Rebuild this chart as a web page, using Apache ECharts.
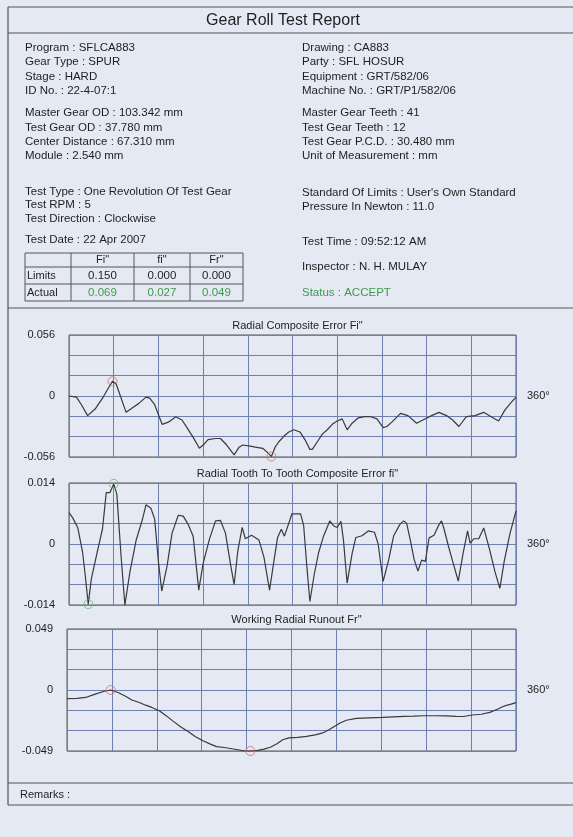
<!DOCTYPE html>
<html>
<head>
<meta charset="utf-8">
<script src="https://cdn.jsdelivr.net/npm/echarts@6/dist/echarts.min.js"></script>
<style>
  html, body { margin: 0; padding: 0; background: #e4e9f3; }
  #container { width: 573px; height: 837px; }
</style>
</head>
<body>
<div id="container"></div>
<script>
// Radial Composite Error Fi"  (degrees / mm)
var fiDeg = [0, 6, 10, 15, 21, 27, 31, 35, 38, 42, 46, 52, 56, 62, 65, 69, 72, 75, 80, 86, 91, 95, 100, 105, 109, 112, 118, 122, 127, 133, 137, 140, 146, 150, 156, 160, 163, 166, 169, 173, 177, 181, 186, 190, 194, 196, 200, 204, 208, 212, 216, 220, 224, 228, 233, 238, 243, 248, 253, 256, 260, 267, 273, 280, 285, 292, 298, 304, 309, 314, 320, 327, 334, 340, 346, 351, 356, 360];
var fiVal = [0, -0.001, -0.008, -0.018, -0.012, -0.002, 0.006, 0.0135, 0.011, -0.002, -0.015, -0.010, -0.007, -0.001, -0.002, -0.008, -0.017, -0.026, -0.024, -0.019, -0.022, -0.029, -0.038, -0.048, -0.044, -0.040, -0.039, -0.039, -0.045, -0.054, -0.047, -0.045, -0.046, -0.047, -0.048, -0.052, -0.0555, -0.047, -0.042, -0.037, -0.033, -0.031, -0.033, -0.040, -0.049, -0.049, -0.042, -0.035, -0.031, -0.026, -0.023, -0.021, -0.031, -0.025, -0.020, -0.019, -0.019, -0.021, -0.029, -0.028, -0.024, -0.016, -0.018, -0.025, -0.022, -0.018, -0.015, -0.018, -0.022, -0.028, -0.019, -0.018, -0.015, -0.019, -0.023, -0.013, -0.006, -0.001];
var fiMarkDeg = [35, 163];
var fiMarkVal = [0.0135, -0.0555];

// Radial Tooth To Tooth Composite Error fi"
var ftDeg = [0, 3, 7, 11, 13, 15.5, 18, 23, 27, 30, 33, 36, 38.5, 42, 45, 49, 54, 59, 62, 66, 69, 72, 74.7, 79, 83, 88, 92, 96, 100, 104.5, 108, 113, 118, 122, 126, 130, 133, 136, 139.5, 142, 147, 153, 157, 161.5, 165, 168, 171, 173.5, 179.5, 186.5, 189, 191.5, 194, 197.5, 201, 205, 210, 213, 216, 219, 221, 224, 228, 231, 236, 241, 246, 249, 253, 257.5, 261.5, 266.5, 269.5, 272, 275, 278, 281, 284, 287, 290, 294, 297.5, 300, 302, 305.5, 309.5, 313.5, 317.5, 321, 323, 326, 330, 334, 338.5, 343, 347, 350.5, 355, 360];
var ftVal = [0.0072, 0.006, 0.0038, -0.002, -0.007, -0.0138, -0.008, -0.0015, 0.0035, 0.0118, 0.0118, 0.0138, 0.0115, -0.003, -0.014, -0.0065, 0.0008, 0.0055, 0.009, 0.0082, 0.0057, -0.004, -0.0108, -0.005, 0.0025, 0.0066, 0.0064, 0.0045, 0.0018, -0.0106, -0.0045, 0.001, 0.0053, 0.0054, 0.0025, -0.0045, -0.0093, -0.0015, 0.0038, 0.0012, 0.002, 0.0009, -0.003, -0.0106, -0.004, 0.0015, 0.0034, 0.0018, 0.0069, 0.0069, 0.0042, -0.005, -0.0132, -0.007, -0.002, 0.0018, 0.0053, 0.0042, 0.0038, 0.0052, 0.001, -0.009, -0.0022, 0.0015, 0.0019, 0.003, 0.0027, 0, -0.0086, -0.0036, 0.0019, 0.0045, 0.0053, 0.0047, 0.0007, -0.0036, -0.0062, -0.0037, -0.004, 0.0014, 0.002, 0.0042, 0.0053, 0.0035, -0.0004, -0.0045, -0.0085, -0.002, 0.003, 0.0002, 0.0012, 0.0012, 0.0037, -0.001, -0.0063, -0.0102, -0.004, 0.0022, 0.0076];
var ftMarkDeg = [36, 15.5];
var ftMarkVal = [0.0138, -0.0138];

// Working Radial Runout Fr"
var frDeg = [0, 8, 15, 22, 30, 35, 41, 47, 52, 58, 63, 68, 74, 80, 85, 91, 98, 103, 109, 115, 120, 126, 131, 137, 143, 148, 153, 158, 163, 168, 173, 178, 185, 192, 199, 205, 210, 214, 219, 224, 232, 242, 253, 262, 270, 278, 286, 295, 304, 312, 318, 325, 332, 339, 345, 351, 356, 360];
var frVal = [-0.0069, -0.0067, -0.006, -0.0035, -0.001, 0, -0.002, -0.005, -0.008, -0.010, -0.0122, -0.014, -0.0167, -0.021, -0.025, -0.0295, -0.034, -0.0375, -0.0408, -0.0435, -0.0455, -0.0462, -0.047, -0.048, -0.049, -0.049, -0.0485, -0.0475, -0.046, -0.0433, -0.040, -0.0385, -0.038, -0.0372, -0.036, -0.0345, -0.032, -0.0295, -0.0265, -0.0243, -0.0228, -0.0224, -0.022, -0.0216, -0.0212, -0.021, -0.0207, -0.0207, -0.0208, -0.0212, -0.0213, -0.0201, -0.0195, -0.018, -0.0155, -0.0127, -0.0113, -0.0101];
var frMarkDeg = [35, 147];
var frMarkVal = [0, -0.049];

var axisLimits = [0.056, 0.014, 0.049];
var chartTitles = ['Radial Composite Error Fi"', 'Radial Tooth To Tooth Composite Error fi"', 'Working Radial Runout Fr"'];

// header text
var leftInfo = ['Program : SFLCA883', 'Gear Type : SPUR', 'Stage : HARD', 'ID No. : 22-4-07:1',
  'Master Gear OD : 103.342 mm', 'Test Gear OD : 37.780 mm', 'Center Distance : 67.310 mm', 'Module : 2.540 mm',
  'Test Type : One Revolution Of Test Gear', 'Test RPM : 5', 'Test Direction : Clockwise', 'Test Date : 22 Apr 2007'];
var rightInfo = ['Drawing : CA883', 'Party : SFL HOSUR', 'Equipment : GRT/582/06', 'Machine No. : GRT/P1/582/06',
  'Master Gear Teeth : 41', 'Test Gear Teeth : 12', 'Test Gear P.C.D. : 30.480 mm', 'Unit of Measurement : mm',
  'Standard Of Limits : User\'s Own Standard', 'Pressure In Newton : 11.0', 'Test Time : 09:52:12 AM', 'Inspector : N. H. MULAY'];
var tableHead = ['Fi"', 'fi"', 'Fr"'];
var tableLimits = ['0.150', '0.000', '0.000'];
var tableActual = ['0.069', '0.027', '0.049'];
var statusText = 'Status : ACCEPT';

function pairs(xs, ys) {
  let out = [];
  for (let i = 0; i < xs.length; i++) out.push([xs[i], ys[i]]);
  return out;
}

let myChart = echarts.init(document.getElementById('container'), null, {renderer: 'canvas'});

let FONT = '"Liberation Sans", Arial, sans-serif';
let INK = '#1e1e1e';
let GREEN = '#3f9a4c';
let BORDER = '#555';

// grid boxes (left, top, width, height)
let grids = [
  {left: 69, top: 335, width: 447, height: 122},
  {left: 69, top: 483, width: 447, height: 122},
  {left: 67, top: 629, width: 449, height: 122}
];

let graphic = [];
function txt(s, x, y, size, color, align) {
  graphic.push({type: 'text', silent: true, style: {text: s, x: x, y: y, fill: color || INK,
    font: (size || 11.5) + 'px ' + FONT, align: align || 'left', verticalAlign: 'middle'}});
}
function ln(x1, y1, x2, y2, w) {
  graphic.push({type: 'line', silent: true, shape: {x1: x1, y1: y1, x2: x2, y2: y2},
    style: {stroke: BORDER, lineWidth: w || 1.2}});
}

// frame
ln(8, 7, 600, 7); ln(8, 7, 8, 805); ln(8, 805, 600, 805);
ln(8, 33, 600, 33); ln(8, 308, 600, 308); ln(8, 783, 600, 783);
txt('Gear Roll Test Report', 283, 21, 16, INK, 'center');

let rowY = [48, 62, 77, 91, 113, 128, 142, 156, 192, 205, 219, 240];
let rowYR = [48, 62, 77, 91, 113, 128, 142, 156, 193, 207, 242, 267];
for (let i = 0; i < leftInfo.length; i++) txt(leftInfo[i], 25, rowY[i]);
for (let i = 0; i < rightInfo.length; i++) txt(rightInfo[i], 302, rowYR[i]);
txt(statusText, 302, 293, 11.5, GREEN);

// result table
let colX = [25, 71, 134, 190, 243];
let tRowY = [253, 267, 284, 301];
for (let x of colX) ln(x, 253, x, 301, 1);
for (let y of tRowY) ln(25, y, 243, y, 1);
for (let i = 0; i < 3; i++) {
  let cx = (colX[i + 1] + colX[i + 2]) / 2;
  txt(tableHead[i], cx, 260, 11, INK, 'center');
  txt(tableLimits[i], cx, 276, 11.5, INK, 'center');
  txt(tableActual[i], cx, 293, 11.5, GREEN, 'center');
}
txt('Limits', 27, 276, 11);
txt('Actual', 27, 293, 11);

txt('Remarks :', 20, 795, 11);

let option = {
  backgroundColor: '#e4e9f3',
  animation: false,
  title: [],
  grid: [],
  xAxis: [],
  yAxis: [],
  series: [],
  graphic: graphic
};

let curves = [[fiDeg, fiVal], [ftDeg, ftVal], [frDeg, frVal]];
let marks = [[fiMarkDeg, fiMarkVal, '#e06a6a'], [ftMarkDeg, ftMarkVal, '#6cb878'], [frMarkDeg, frMarkVal, '#e06a6a']];

for (let i = 0; i < 3; i++) {
  let g = grids[i];
  let lim = axisLimits[i];
  option.grid.push({left: g.left, top: g.top, width: g.width, height: g.height,
    show: true, borderColor: BORDER, borderWidth: 1, backgroundColor: 'transparent'});
  option.title.push({text: chartTitles[i], left: g.left + g.width / 2, top: g.top - 20, textAlign: 'center',
    textStyle: {fontFamily: FONT, fontSize: 11, fontWeight: 'normal', color: INK}});
  option.xAxis.push({gridIndex: i, type: 'value', min: 0, max: 360, interval: 36,
    axisLine: {show: false}, axisTick: {show: false}, axisLabel: {show: false},
    splitLine: {show: true, lineStyle: {color: '#6f7fae', width: 1}}});
  option.yAxis.push({gridIndex: i, type: 'value', min: -lim, max: lim, interval: lim / 3,
    axisLine: {show: false}, axisTick: {show: false},
    splitLine: {show: true, lineStyle: {color: '#6f7fae', width: 1}},
    axisLabel: {margin: 14, color: INK, fontFamily: FONT, fontSize: 11,
      formatter: (function (l) {
        return function (v) {
          if (Math.abs(v) < 1e-9) return '0';
          if (Math.abs(Math.abs(v) - l) < 1e-9) return v.toFixed(3);
          return '';
        };
      })(lim)}});
  option.series.push({type: 'line', xAxisIndex: i, yAxisIndex: i, data: pairs(curves[i][0], curves[i][1]),
    showSymbol: false, silent: true, lineStyle: {color: '#3a3a3a', width: 1.2}});
  option.series.push({type: 'scatter', xAxisIndex: i, yAxisIndex: i, data: pairs(marks[i][0], marks[i][1]),
    symbol: 'circle', symbolSize: 9, silent: true, z: 5,
    itemStyle: {color: 'rgba(0,0,0,0)', borderColor: marks[i][2], borderWidth: 1}});
  txt('360\u00b0', 527, g.top + g.height / 2, 11);
}

myChart.setOption(option, true);
</script>
</body>
</html>
